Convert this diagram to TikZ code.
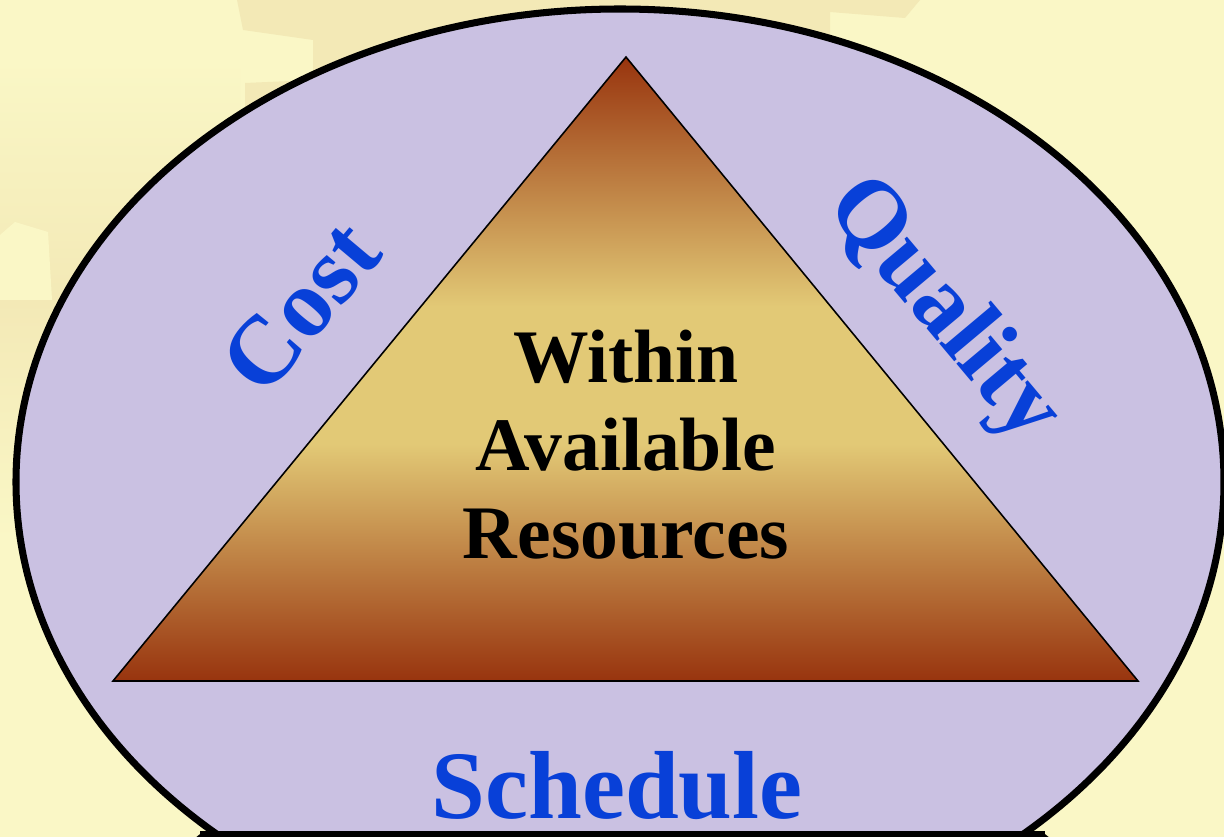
\documentclass[tikz,border=0pt]{standalone}
\usepackage{fontspec}
\setmainfont{Liberation Serif}
\usepackage{tikz}
\usetikzlibrary{positioning,calc}

\definecolor{bgyellow}{RGB}{250,247,198}
\definecolor{bgpatch}{RGB}{243,233,182}
\definecolor{ovallav}{RGB}{202,193,226}
\definecolor{trirust}{RGB}{152,52,14}
\definecolor{trigold}{RGB}{226,201,118}
\definecolor{labelblue}{RGB}{8,64,216}

\pgfdeclareverticalshading{trishade}{100bp}{color(0bp)=(trirust); color(25bp)=(trirust);
  color(44bp)=(trigold); color(55bp)=(trigold); color(75bp)=(trirust); color(100bp)=(trirust)}

\tikzset{
  sidelabel/.style={text=labelblue,font=\fontsize{27.5}{30}\selectfont\bfseries,inner sep=0pt},
  centerlabel/.style={text=black,align=center,inner sep=0pt,
    font=\fontsize{21.5}{25}\selectfont\bfseries}
}

\begin{document}
\begin{tikzpicture}[x=0.01cm,y=-0.01cm]
  \useasboundingbox (0,0) rectangle (1224,837);
  \clip (0,0) rectangle (1224,837);
  \fill[bgyellow] (0,0) rectangle (1224,837); % 背景
  \fill[bgpatch] (237,0) -- (830,0) -- (830,140) -- (245,140) -- (245,83) -- (313,80) -- (313,40) -- (243,30) -- cycle; % 上側の模様
  \fill[bgpatch] (815,0) -- (920,0) -- (905,18) -- (830,12) -- cycle; % 右上の模様
  \fill[top color=bgyellow,bottom color=bgpatch] (0,60) rectangle (240,300); % 左側の模様（上半分）
  \fill[top color=bgpatch,bottom color=bgyellow] (0,300) rectangle (240,540); % 左側の模様（下半分）
  \fill[bgyellow] (0,235) -- (15,222) -- (48,232) -- (52,300) -- (0,300) -- cycle; % 左側の明るい模様
  \fill[black,rounded corners=6] (190,831) rectangle (1055,880); % 下の黒い帯
  \filldraw[fill=ovallav,draw=black,line width=2pt] (620,482) ellipse [x radius=604, y radius=473]; % 楕円
  \fill[black] (200,831) rectangle (1045,880); % 楕円の下端を切る帯
  \draw[line width=0.45pt,shading=trishade]
    (626,57) -- (1138,681) -- (113,681) -- cycle; % 三角形
  \node[centerlabel] (inside) at (626,445) {Within\\Available\\Resources}; % 中央の文字
  \node[sidelabel,rotate=50] (cost) at (301,307) {Cost}; % 左辺
  \node[sidelabel,rotate=-50] (quality) at (942,311) {Quality}; % 右辺
  \node[sidelabel,anchor=base] (schedule) at (617,818) {Schedule}; % 底辺
\end{tikzpicture}
\end{document}
